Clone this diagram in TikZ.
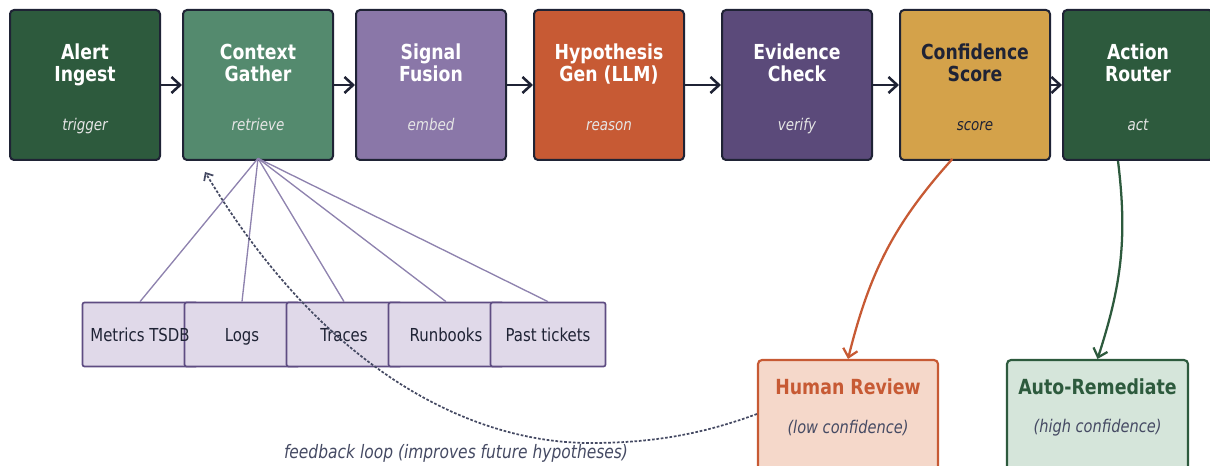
\documentclass[tikz,border=0pt]{standalone}
\usepackage{fontspec}
\setmainfont{DejaVu Sans}[FakeStretch=0.835]
\usetikzlibrary{arrows.meta}

\definecolor{ink}{HTML}{1F2335}
\definecolor{forest}{HTML}{2D5A3D}
\definecolor{sage}{HTML}{548A6E}
\definecolor{lilac}{HTML}{8A77A8}
\definecolor{rust}{HTML}{C75A34}
\definecolor{plum}{HTML}{5B4A7A}
\definecolor{ochre}{HTML}{D4A24A}
\definecolor{srcfill}{HTML}{E0D9E9}
\definecolor{srcedge}{HTML}{5E4C82}
\definecolor{fan}{HTML}{8E82AE}
\definecolor{hrfill}{HTML}{F5D8CA}
\definecolor{arfill}{HTML}{D5E5DA}
\definecolor{note}{HTML}{454A63}

\tikzset{
  stage/.style={draw=ink, line width=1.5pt, rounded corners=3pt,
    minimum width=112.5pt, minimum height=112.5pt, inner sep=0pt},
  ttl/.style={font=\fontsize{15.5}{16.5}\selectfont\bfseries, align=center,
    text=white, text depth=3.7pt},
  sub/.style={font=\fontsize{12.1}{14}\selectfont\itshape, text=white!90!black, anchor=base},
  flow/.style={draw=ink, line width=1.9pt, -{Straight Barb[length=6.5pt,width=12pt]}},
  src/.style={draw=srcedge, fill=srcfill, line width=1.3pt, rounded corners=1.5pt,
    minimum width=86.25pt, minimum height=48pt, inner sep=0pt},
  srctxt/.style={font=\fontsize{13.4}{15}\selectfont, text=ink, anchor=base},
  fanline/.style={draw=fan, line width=1pt},
  outcome/.style={line width=1.6pt, rounded corners=3pt, minimum height=90pt, inner sep=0pt},
  outttl/.style={font=\fontsize{15.6}{17}\selectfont\bfseries, anchor=base},
  outsub/.style={font=\fontsize{13.1}{15}\selectfont\itshape, text=note, anchor=base},
  route/.style={line width=1.7pt, -{Straight Barb[length=6pt,width=11pt]}},
  feedback/.style={draw=note, line width=1.3pt, dash pattern=on 2pt off 1.3pt,
    -{Straight Barb[length=4.5pt,width=8pt]}},
  notetxt/.style={font=\fontsize{13.9}{16}\selectfont\itshape, text=note, anchor=base}
}

\begin{document}
\begin{tikzpicture}[x=0.75pt,y=-0.75pt]
\useasboundingbox (0,0) rectangle (1210,466);

% pipeline stages
\node[stage, fill=forest] (alert) at (85,85) {};
\node[ttl] (alert-t) at (85,65.5) {Alert\\Ingest};
\node[sub] (alert-s) at (85,131) {trigger};

\node[stage, fill=sage] (ctx) at (258,85) {};
\node[ttl] (ctx-t) at (258,65.5) {Context\\Gather};
\node[sub] (ctx-s) at (258,131) {retrieve};

\node[stage, fill=lilac] (fuse) at (431,85) {};
\node[ttl] (fuse-t) at (431,65.5) {Signal\\Fusion};
\node[sub] (fuse-s) at (431,131) {embed};

\node[stage, fill=rust] (hyp) at (609,85) {};
\node[ttl] (hyp-t) at (609,65.5) {Hypothesis\\Gen (LLM)};
\node[sub] (hyp-s) at (609,131) {reason};

\node[stage, fill=plum] (evid) at (797,85) {};
\node[ttl] (evid-t) at (797,65.5) {Evidence\\Check};
\node[sub] (evid-s) at (797,131) {verify};

\node[stage, fill=ochre] (conf) at (975,85) {};
\node[ttl, text=ink] (conf-t) at (975,65.5) {Confidence\\Score};
\node[sub, text=ink] (conf-s) at (975,131) {score};

\node[stage, fill=forest] (act) at (1138,85) {};
\node[ttl] (act-t) at (1138,65.5) {Action\\Router};
\node[sub] (act-s) at (1138,131) {act};

% main flow
\draw[flow] (alert) -- (ctx);
\draw[flow] (ctx) -- (fuse);
\draw[flow] (fuse) -- (hyp);
\draw[flow] (hyp) -- (evid);
\draw[flow] (evid) -- (conf);
\draw[flow] (conf) -- (act);

% context sources
\node[src] (src1) at (140,334.5) {};
\node[src] (src2) at (242,334.5) {};
\node[src] (src3) at (344,334.5) {};
\node[src] (src4) at (446,334.5) {};
\node[src] (src5) at (548,334.5) {};
\node[srctxt] (src1-l) at (140,341.5) {Metrics TSDB};
\node[srctxt] (src2-l) at (242,341.5) {Logs};
\node[srctxt] (src3-l) at (344,341.5) {Traces};
\node[srctxt] (src4-l) at (446,341.5) {Runbooks};
\node[srctxt] (src5-l) at (548,341.5) {Past tickets};

\coordinate (fan-root) at ([yshift=2pt]ctx.south);
\foreach \s in {src1,src2,src3,src4,src5}
  \draw[fanline] (fan-root) -- (\s.north);

% outcomes
\node[outcome, draw=rust, fill=hrfill, minimum width=135pt] (hr) at (848,420) {};
\node[outttl, text=rust] (hr-t) at (848,394.5) {Human Review};
\node[outsub] (hr-s) at (848,433) {(low confidence)};

\node[outcome, draw=forest, fill=arfill, minimum width=135.75pt] (auto) at (1097.5,420) {};
\node[outttl, text=forest] (auto-t) at (1097.5,394.5) {Auto-Remediate};
\node[outsub] (auto-s) at (1097.5,432) {(high confidence)};

\draw[route, draw=rust] ([xshift=-17pt,yshift=1.5pt]conf.south) to[out=-132, in=76] (hr.north);
\draw[route, draw=forest] ([xshift=-15pt]act.south) to[out=-83, in=72] (auto.north);

% feedback loop
\coordinate (fb-mid) at (590,443);
\coordinate (fb-end) at (205,172);
\draw[feedback] ([yshift=4.5pt]hr.west) .. controls (700,435) and (650,443) .. (fb-mid)
  .. controls (480,443) and (330,380) .. (fb-end);
\node[notetxt] (fb-label) at (456,459) {feedback loop (improves future hypotheses)};
\end{tikzpicture}
\end{document}
